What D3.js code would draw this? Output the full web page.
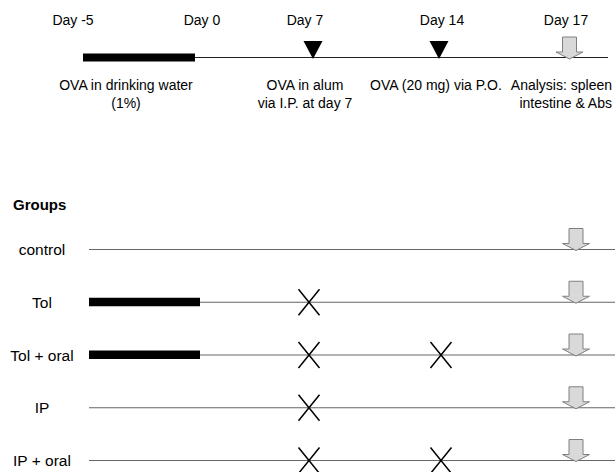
<!DOCTYPE html>
<html><head><meta charset="utf-8">
<script src="https://cdn.jsdelivr.net/npm/d3@7"></script>
<style>body{margin:0;background:#fff}text{font-family:"Liberation Sans",Arial,sans-serif;fill:#000}</style>
</head><body>
<svg id="c" width="615" height="472"></svg>
<script>
// ---- data ----
const days = [-5, 0, 7, 14, 17];
const dayLabels = ["Day -5", "Day 0", "Day 7", "Day 14", "Day 17"];
const drinkingPeriod = [-5, 0];
const ipDay = 7, oralDay = 14, analysisDay = 17;
const timelineNotes = [
  {day: 0,  lines: ["OVA in drinking water", "(1%)"], anchor: "middle"},
  {day: 7,  lines: ["OVA in alum", "via I.P. at day 7"], anchor: "middle"},
  {day: 14, lines: ["OVA (20 mg) via P.O."], anchor: "middle"},
  {day: 17, lines: ["Analysis: spleen", "intestine & Abs"], anchor: "end"}
];
const groups = ["control", "Tol", "Tol + oral", "IP", "IP + oral"];
const tolerized = [false, true, true, false, false];
const ipImmunized = [false, true, true, true, true];
const oralChallenge = [false, false, true, false, true];
const analyzed = [true, true, true, true, true];

// ---- layout ----
const svg = d3.select("#c");
const xTop = d3.scaleLinear().domain(days).range([83, 195, 313, 439, 569.5]);
const xLab = d3.scaleLinear().domain(days).range([73, 202, 305, 442, 566]);
const xGrp = d3.scaleLinear().domain(days).range([89, 200, 309, 441, 576]);
const noteX = d3.scaleLinear().domain([0, 7, 14, 17]).range([126, 305, 436, 612]);
const yTop = 57.5;
const yG = d3.scalePoint().domain(groups).range([249.5, 460.5]);

function arrowPath(cx, tipY) {
  const p = d3.path();
  const sh = 7, hh = 13.5, H = 22, hd = 7;
  p.moveTo(cx - sh, tipY - H);
  p.lineTo(cx + sh, tipY - H);
  p.lineTo(cx + sh, tipY - hd);
  p.lineTo(cx + hh, tipY - hd);
  p.lineTo(cx, tipY);
  p.lineTo(cx - hh, tipY - hd);
  p.lineTo(cx - sh, tipY - hd);
  p.closePath();
  return p.toString();
}
function trianglePath(cx, tipY) {
  const p = d3.path();
  p.moveTo(cx - 9.5, tipY - 18);
  p.lineTo(cx + 9.5, tipY - 18);
  p.lineTo(cx, tipY);
  p.closePath();
  return p.toString();
}
function crossPath(cx, cy) {
  const p = d3.path();
  p.moveTo(cx - 10.5, cy - 13); p.lineTo(cx + 10.5, cy + 13);
  p.moveTo(cx + 10.5, cy - 13); p.lineTo(cx - 10.5, cy + 13);
  return p.toString();
}

// ---- top timeline ----
const topG = svg.append("g");
topG.selectAll("text.day").data(days).join("text")
  .attr("class", "day")
  .attr("x", d => xLab(d)).attr("y", 24.5)
  .attr("text-anchor", "middle").style("font-size", "14px")
  .text((d, i) => dayLabels[i]);

topG.append("line")
  .attr("x1", xTop(-5)).attr("x2", 608)
  .attr("y1", yTop).attr("y2", yTop)
  .attr("stroke", "#222").attr("stroke-width", 1);
topG.append("rect")
  .attr("x", xTop(drinkingPeriod[0])).attr("width", xTop(drinkingPeriod[1]) - xTop(drinkingPeriod[0]))
  .attr("y", yTop - 4).attr("height", 8).attr("fill", "#000");
topG.selectAll("path.tri").data([ipDay, oralDay]).join("path")
  .attr("class", "tri").attr("d", d => trianglePath(xTop(d), yTop + 1.5)).attr("fill", "#000");
topG.append("path").attr("d", arrowPath(xTop(analysisDay), yTop + 1.5))
  .attr("fill", "#d9d9d9").attr("stroke", "#808080").attr("stroke-width", 1);

timelineNotes.forEach(n => {
  n.lines.forEach((s, i) => {
    topG.append("text")
      .attr("x", noteX(n.day)).attr("y", 90 + i * 18)
      .attr("text-anchor", n.anchor).style("font-size", "14px").text(s);
  });
});

// ---- groups ----
svg.append("text").attr("x", 13).attr("y", 209.5)
  .style("font-size", "15px").style("font-weight", "bold").text("Groups");

const rows = svg.selectAll("g.row").data(groups).join("g")
  .attr("class", "row").attr("transform", d => `translate(0,${yG(d)})`);

rows.append("text").attr("x", 42).attr("dy", "0.36em")
  .attr("text-anchor", "middle").style("font-size", "15.5px").text(d => d);
rows.append("line").attr("x1", xGrp(-5)).attr("x2", 615)
  .attr("stroke", "#666").attr("stroke-width", 1.2);
rows.filter((d, i) => tolerized[i]).append("rect")
  .attr("x", xGrp(drinkingPeriod[0])).attr("width", xGrp(drinkingPeriod[1]) - xGrp(drinkingPeriod[0]))
  .attr("y", -4.5).attr("height", 8.5).attr("fill", "#000");
rows.filter((d, i) => ipImmunized[i]).append("path")
  .attr("d", crossPath(xGrp(ipDay), 0)).attr("stroke", "#000").attr("stroke-width", 1.5).attr("fill", "none");
rows.filter((d, i) => oralChallenge[i]).append("path")
  .attr("d", crossPath(xGrp(oralDay), 0)).attr("stroke", "#000").attr("stroke-width", 1.5).attr("fill", "none");
rows.filter((d, i) => analyzed[i]).append("path")
  .attr("d", arrowPath(xGrp(analysisDay), 1))
  .attr("fill", "#d9d9d9").attr("stroke", "#808080").attr("stroke-width", 1);
</script>
</body></html>
